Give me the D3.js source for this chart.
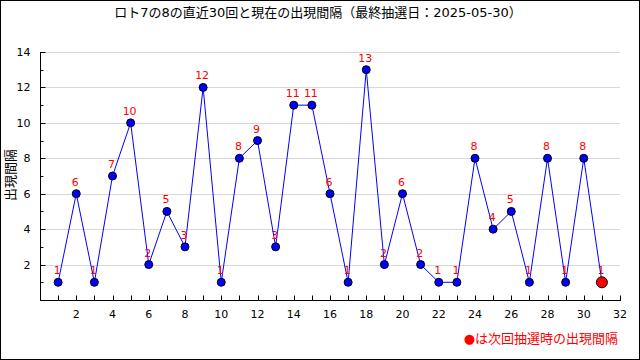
<!DOCTYPE html>
<html>
<head>
<meta charset="utf-8">
<script src="https://cdn.jsdelivr.net/npm/d3@7"></script>
<style>
body { margin: 0; background: #fff; }
text { font-family: "DejaVu Sans", "Noto Sans CJK JP", sans-serif; }
</style>
</head>
<body>
<script>
var width = 640;
var height = 360;

// 直近30回の出現間隔
var draws = d3.range(1, 31);
var intervals = [1, 6, 1, 7, 10, 2, 5, 3, 12, 1, 8, 9, 3, 11, 11, 6, 1, 13, 2, 6, 2, 1, 1, 8, 4, 5, 1, 8, 1, 8];
// 現在（次回抽選時）
var currentDraw = 31;
var currentInterval = 1;

var xTicks = [2, 4, 6, 8, 10, 12, 14, 16, 18, 20, 22, 24, 26, 28, 30, 32];
var yTicks = [2, 4, 6, 8, 10, 12, 14];

var titleText = "ロト7の8の直近30回と現在の出現間隔（最終抽選日：2025-05-30）";
var yLabel = "出現間隔";
var noteText = "は次回抽選時の出現間隔";

var svg = d3.select("body")
    .append("svg")
    .attr("width", width)
    .attr("height", height);

svg.append("rect")
    .attr("x", 0.5).attr("y", 0.5)
    .attr("width", width - 1).attr("height", height - 1)
    .attr("fill", "#fff")
    .attr("stroke", "#000");

var x = d3.scaleLinear().domain([0, 32]).range([40, 620]);
var y = d3.scaleLinear().domain([0, 14]).range([300, 52]);

// gridlines
svg.append("g")
    .selectAll("line")
    .data(yTicks)
    .enter()
    .append("line")
    .attr("x1", x(0)).attr("x2", x(32))
    .attr("y1", function(d) { return Math.round(y(d)) + 0.5; })
    .attr("y2", function(d) { return Math.round(y(d)) + 0.5; })
    .attr("stroke", "#d8d8d8");

// axes
var xAxis = svg.append("g")
    .attr("transform", "translate(0," + Math.round(y(0)) + ".5)");
xAxis.append("line")
    .attr("x1", x(0)).attr("x2", x(32) + 1)
    .attr("stroke", "#000");
xAxis.selectAll("line.tick")
    .data(d3.range(1, 33))
    .enter()
    .append("line")
    .attr("class", "tick")
    .attr("x1", function(d) { return Math.round(x(d)) + 0.5; })
    .attr("x2", function(d) { return Math.round(x(d)) + 0.5; })
    .attr("y1", 0)
    .attr("y2", -5)
    .attr("stroke", "#000");
xAxis.selectAll("text")
    .data(xTicks)
    .enter()
    .append("text")
    .attr("x", function(d) { return x(d); })
    .attr("y", 17)
    .attr("text-anchor", "middle")
    .attr("font-size", "11px")
    .text(function(d) { return d; });

var yAxis = svg.append("g")
    .attr("transform", "translate(" + Math.round(x(0)) + ".5,0)");
yAxis.append("line")
    .attr("y1", y(14)).attr("y2", y(0))
    .attr("stroke", "#000");
yAxis.selectAll("line.tick")
    .data(d3.range(1, 15))
    .enter()
    .append("line")
    .attr("class", "tick")
    .attr("y1", function(d) { return Math.round(y(d)) + 0.5; })
    .attr("y2", function(d) { return Math.round(y(d)) + 0.5; })
    .attr("x1", 0)
    .attr("x2", function(d) { return d % 2 === 0 ? 5 : 3; })
    .attr("stroke", "#000");
yAxis.selectAll("text")
    .data(yTicks)
    .enter()
    .append("text")
    .attr("x", -10)
    .attr("y", function(d) { return y(d) + 4; })
    .attr("text-anchor", "end")
    .attr("font-size", "11px")
    .text(function(d) { return d; });

// title
svg.append("text")
    .attr("x", 318)
    .attr("y", 17)
    .attr("text-anchor", "middle")
    .attr("font-size", "13px")
    .text(titleText);

svg.append("text")
    .attr("transform", "translate(15," + 175 + ") rotate(-90)")
    .attr("text-anchor", "middle")
    .attr("font-size", "13px")
    .text(yLabel);

// line
var pts = draws.map(function(d, i) { return [d, intervals[i]]; });
pts.push([currentDraw, currentInterval]);

var line = d3.line()
    .x(function(d) { return x(d[0]); })
    .y(function(d) { return y(d[1]); });

svg.append("path")
    .datum(pts)
    .attr("d", line)
    .attr("fill", "none")
    .attr("stroke", "#0000ff")
    .attr("stroke-width", 1);

svg.append("g")
    .selectAll("circle")
    .data(pts.slice(0, 30))
    .enter()
    .append("circle")
    .attr("cx", function(d) { return x(d[0]); })
    .attr("cy", function(d) { return y(d[1]); })
    .attr("r", 4)
    .attr("fill", "#0000ff")
    .attr("stroke", "#000")
    .attr("stroke-width", 1);

svg.append("circle")
    .attr("cx", x(currentDraw))
    .attr("cy", y(currentInterval))
    .attr("r", 5.5)
    .attr("fill", "#ff0000")
    .attr("stroke", "#000")
    .attr("stroke-width", 1);

svg.append("g")
    .selectAll("text")
    .data(pts)
    .enter()
    .append("text")
    .attr("x", function(d) { return x(d[0]) - 1; })
    .attr("y", function(d) { return y(d[1]) - 8; })
    .attr("text-anchor", "middle")
    .attr("font-size", "11px")
    .attr("fill", "#ff0000")
    .text(function(d) { return d[1]; });

// note
var note = svg.append("text")
    .attr("x", 618)
    .attr("y", 343)
    .attr("text-anchor", "end")
    .attr("font-size", "13px")
    .attr("fill", "#ff0000");
note.append("tspan").text("●");
note.append("tspan").text(noteText);
</script>
</body>
</html>
